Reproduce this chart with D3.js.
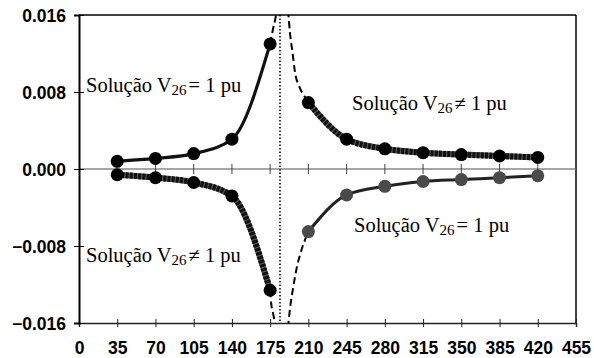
<!DOCTYPE html>
<html>
<head>
<meta charset="utf-8">
<script src="https://cdn.jsdelivr.net/npm/d3@7"></script>
<style>
  html, body { margin: 0; padding: 0; background: #fff; }
  svg { display: block; }
</style>
</head>
<body>
<svg id="chart" width="594" height="358"></svg>
<script>
// Load values (x) and solution branches (y)
const xLeft = [35, 70, 105, 140, 175];
const xRight = [210, 245, 280, 315, 350, 385, 420];

// Upper branches
const upperLeft = [0.0008, 0.0011, 0.0016, 0.0031, 0.0130];
const upperRight = [0.0069, 0.0031, 0.0021, 0.0017, 0.0015, 0.00135, 0.0012];
// Lower branches
const lowerLeft = [-0.0006, -0.0009, -0.0014, -0.0028, -0.0126];
const lowerRight = [-0.0065, -0.0027, -0.0018, -0.0013, -0.0011, -0.0009, -0.0007];

// Dashed continuations toward the singular point
const upperLeftTailX = [175, 176.2, 177.7, 179.9, 181.0];
const upperLeftTailY = [0.0130, 0.0137, 0.0146, 0.0157, 0.0165];
const upperRightHeadX = [191.4, 193.2, 195.6, 197.7, 202.3, 208.4, 210];
const upperRightHeadY = [0.0165, 0.0141, 0.0120, 0.0101, 0.0084, 0.0072, 0.0069];
const lowerLeftTailX = [175, 176.1, 177.7, 179.2, 180.7];
const lowerLeftTailY = [-0.0126, -0.0141, -0.0150, -0.0159, -0.0165];
const lowerRightHeadX = [191.3, 193.2, 196.2, 199.9, 202.3, 210];
const lowerRightHeadY = [-0.0165, -0.01448, -0.01223, -0.00997, -0.00893, -0.0065];

const singularX = 184;

const xTicks = [0, 35, 70, 105, 140, 175, 210, 245, 280, 315, 350, 385, 420, 455];
const yTicks = [-0.016, -0.008, 0, 0.008, 0.016];

const svg = d3.select("#chart");
const m = { left: 79, right: 576, top: 15, bottom: 323 };

const x = d3.scaleLinear().domain([0, 455]).range([m.left, m.right]);
const y = d3.scaleLinear().domain([-0.016, 0.016]).range([m.bottom, m.top]);

svg.append("defs").append("clipPath").attr("id", "plot")
  .append("rect")
  .attr("x", m.left).attr("y", m.top)
  .attr("width", m.right - m.left).attr("height", m.bottom - m.top);

// Frame: top and right borders
svg.append("line").attr("x1", m.left).attr("x2", m.right)
  .attr("y1", m.top).attr("y2", m.top)
  .attr("stroke", "#000").attr("stroke-width", 1.5);
svg.append("line").attr("x1", m.right).attr("x2", m.right)
  .attr("y1", m.top).attr("y2", m.bottom)
  .attr("stroke", "#000").attr("stroke-width", 1.5);

// Zero line with crossing ticks
svg.append("line").attr("x1", m.left).attr("x2", m.right)
  .attr("y1", y(0)).attr("y2", y(0))
  .attr("stroke", "#888").attr("stroke-width", 1.5);
svg.append("g").selectAll("line")
  .data(xTicks.filter(d => d > 0))
  .join("line")
  .attr("x1", d => x(d)).attr("x2", d => x(d))
  .attr("y1", y(0) - 5).attr("y2", y(0) + 5)
  .attr("stroke", "#444").attr("stroke-width", 1);

// Bottom axis
const xAxis = d3.axisBottom(x).tickValues(xTicks).tickSize(4).tickPadding(15)
  .tickFormat(d3.format("d"));
const gx = svg.append("g").attr("transform", `translate(0,${m.bottom})`).call(xAxis);
gx.select(".domain").attr("stroke", "#222").attr("stroke-width", 1.5);
gx.selectAll(".tick line").attr("y1", -4).attr("y2", 4).attr("stroke", "#222");
gx.selectAll("text")
  .attr("font-family", "'Liberation Sans', Arial, sans-serif")
  .attr("font-weight", "bold").attr("font-size", 17.5).attr("fill", "#000");

// Left axis
const yAxis = d3.axisLeft(y).tickValues(yTicks).tickSize(5).tickPadding(8)
  .tickFormat(d3.format(".3f"));
const gy = svg.append("g").attr("transform", `translate(${m.left},0)`).call(yAxis);
gy.select(".domain").attr("stroke", "#000").attr("stroke-width", 2);
gy.selectAll(".tick line").attr("x1", -5).attr("x2", 5).attr("stroke", "#000");
gy.selectAll("text")
  .attr("x", -13)
  .attr("font-family", "'Liberation Sans', Arial, sans-serif")
  .attr("font-weight", "bold").attr("font-size", 17.5).attr("fill", "#000")
  .attr("dy", "0.36em");

const plot = svg.append("g").attr("clip-path", "url(#plot)");

// Singular point marker line
plot.append("line")
  .attr("x1", x(singularX)).attr("x2", x(singularX))
  .attr("y1", m.top).attr("y2", m.bottom)
  .attr("stroke", "#000").attr("stroke-width", 1.5)
  .attr("stroke-dasharray", "1.5,2");

const line = d3.line().x(d => x(d[0])).y(d => y(d[1])).curve(d3.curveMonotoneX);
const zip = (xs, ys) => xs.map((v, i) => [v, ys[i]]);

// Dashed continuations
[[upperLeftTailX, upperLeftTailY], [upperRightHeadX, upperRightHeadY],
 [lowerLeftTailX, lowerLeftTailY], [lowerRightHeadX, lowerRightHeadY]]
  .forEach(([xs, ys]) => {
    plot.append("path").attr("d", line(zip(xs, ys)))
      .attr("fill", "none").attr("stroke", "#000").attr("stroke-width", 2)
      .attr("stroke-dasharray", "7,4");
  });

// Solid branches
function branch(xs, ys, width, base, over) {
  const p = zip(xs, ys);
  plot.append("path").attr("d", line(p)).attr("fill", "none")
    .attr("stroke", base).attr("stroke-width", width).attr("stroke-linecap", "round");
  if (over) {
    plot.append("path").attr("d", line(p)).attr("fill", "none")
      .attr("stroke", over).attr("stroke-width", width)
      .attr("stroke-dasharray", "3,1.2");
  }
}
branch(xLeft, upperLeft, 3.2, "#111", null);
branch(xRight, upperRight, 6, "#555", "#111");
branch(xLeft, lowerLeft, 6, "#555", "#111");
branch(xRight, lowerRight, 3, "#222", null);

// Markers
function markers(xs, ys, color) {
  plot.append("g").selectAll("circle")
    .data(zip(xs, ys)).join("circle")
    .attr("cx", d => x(d[0])).attr("cy", d => y(d[1]))
    .attr("r", 6.5).attr("fill", color);
}
markers(xLeft, upperLeft, "#000");
markers(xRight, upperRight, "#000");
markers(xLeft, lowerLeft, "#000");
markers(xRight, lowerRight, "#4a4a4a");

// Branch annotations
const notes = [
  { px: 86, py: 92, rel: "=" },
  { px: 352, py: 110, rel: "\u2260" },
  { px: 86, py: 262, rel: "\u2260" },
  { px: 354, py: 232, rel: "=" }
];
notes.forEach(n => {
  const t = svg.append("text")
    .attr("x", n.px).attr("y", n.py)
    .attr("font-family", "'Liberation Serif', 'Times New Roman', serif")
    .attr("font-size", 20.5).attr("fill", "#000");
  t.append("tspan").text("Solução V");
  t.append("tspan").attr("font-size", 15).attr("dy", 3).text("26");
  t.append("tspan").attr("dy", -3).attr("dx", 2).text(n.rel + " 1 pu");
});
</script>
</body>
</html>
